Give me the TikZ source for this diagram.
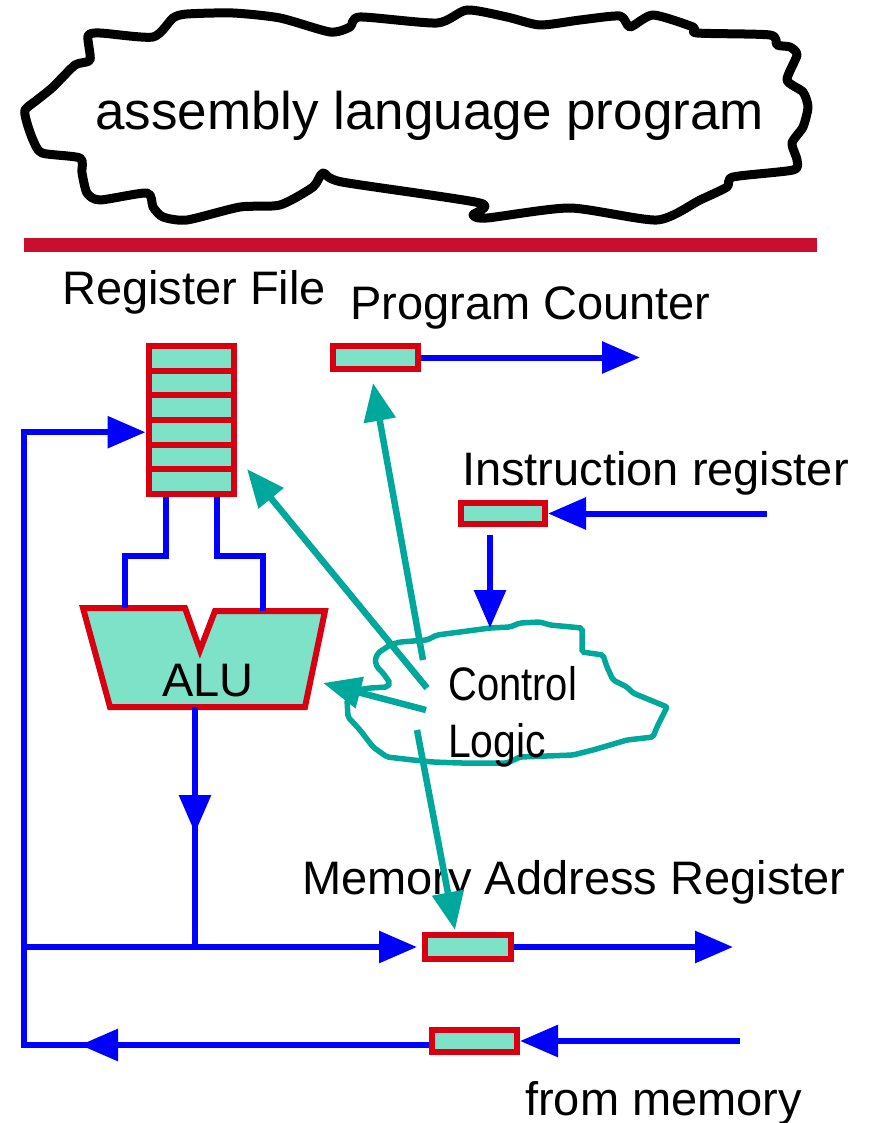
\documentclass[tikz,border=0pt]{standalone}
\usepackage{fontspec}
\setmainfont{Liberation Sans}
\usetikzlibrary{arrows.meta,positioning}
\definecolor{regred}{RGB}{216,0,16}
\definecolor{barred}{RGB}{200,16,46}
\definecolor{regfill}{RGB}{125,226,200}
\definecolor{ctlteal}{RGB}{0,168,156}
\tikzstyle{reg}=[draw=regred, line width=6pt, fill=regfill, inner sep=0pt]
\tikzstyle{bus}=[blue, line width=6pt]
\tikzstyle{ctl}=[ctlteal, line width=6.5pt]
\tikzstyle{lbl}=[inner sep=0pt, anchor=base west, font=\fontsize{47}{57}\selectfont]
\tikzstyle{arrowhd}=[-{Triangle[length=38pt,width=31pt]}]

\begin{document}
\begin{tikzpicture}[x=1pt, y=-1pt]
  \useasboundingbox (0,0) rectangle (870,1123);

  % program cloud and separator
  \draw[line width=9pt, line join=round] plot[smooth cycle, tension=0.4] coordinates {
    (88,36) (100,33) (153,37) (173,18) (187,14) (233,13) (280,18) (330,32)
    (350,27) (360,17) (437,23) (467,10) (507,17) (540,25) (580,20) (620,16)
    (630,27) (653,15) (693,27) (697,33) (770,35) (777,45) (790,47) (797,55)
    (787,80) (803,92) (808,107) (803,127) (792,143) (797,160) (793,170)
    (733,177) (727,187) (700,200) (657,220) (570,208) (487,218) (473,215)
    (480,203) (342,182) (323,173) (313,187) (280,205) (240,207) (187,220)
    (163,217) (153,207) (147,193) (100,200) (87,193) (82,173) (80,158)
    (42,153) (33,140) (27,123) (25,110) (37,100) (53,87) (75,65) (90,60)};
  \node[lbl, font=\fontsize{53}{60}\selectfont] (asm) at (95,130) {assembly language program};
  \fill[barred] (24,238) rectangle (817,252);

  % labels
  \node[lbl] (lblrf)  at (62,304)   {Register File};
  \node[lbl] (lblpc)  at (350,319)  {Program Counter};
  \node[lbl] (lblir)  at (462,485)  {Instruction register};
  \node[lbl] (lblmar) at (302,894)  {Memory Address Register};
  \node[lbl] (lblmem) at (525,1115) {from memory};

  % registers
  \foreach \i in {1,...,6}
    \node[reg, minimum width=85pt, minimum height=24.6pt] (rf\i) at (191,333.8+24.6*\i) {};
  \node[reg, minimum width=85pt, minimum height=23pt] (pc)  at (375.5,357.5) {};
  \node[reg, minimum width=84pt, minimum height=21pt] (ir)  at (503,513.5)  {};
  \node[reg, minimum width=86pt, minimum height=24pt] (mar) at (468,947)    {};
  \node[reg, minimum width=85pt, minimum height=22pt] (mdr) at (474.5,1041) {};

  % ALU
  \draw[reg] (83,608) -- (185,608) -- (200,650) -- (215,611) -- (325,611)
    -- (305,707) -- (110,707) -- cycle;
  \node[lbl] (alu) at (162,696) {ALU};
  \coordinate (ain1) at (125,608);
  \coordinate (ain2) at (263,611);
  \coordinate (aout) at (195,707);
  \coordinate (amid) at (195,833);

  % datapath
  \coordinate (lft)    at (24,947);
  \coordinate (junc)   at (195,947);
  \coordinate (lmid)   at (80,1045);
  \coordinate (pcout)  at (640,357.5);
  \coordinate (irin)   at (767,513.5);
  \coordinate (marout) at (733,947);
  \coordinate (memin)  at (740,1041);
  \draw[bus] ([xshift=-25pt]rf6.south) -- ++(0,59) -| (ain1);
  \draw[bus] ([xshift=26pt]rf6.south) -- ++(0,59) -| (ain2);
  \draw[bus] (aout) -- (junc);
  \draw[bus, arrowhd] (aout) -- (amid);
  \draw[bus, arrowhd, shorten >=5pt] (lft) -- (mar.west);
  \draw[bus, arrowhd] (mar.east) -- (marout);
  \draw[bus, arrowhd] (memin) -- (mdr.east);
  \draw[bus, arrowhd] (mdr.west |- lmid) -- (lmid -| lft) |- (rf4.west);
  \draw[bus, arrowhd] (mdr.west |- lmid) -- (lmid);
  \draw[bus, arrowhd] (pc.east) -- (pcout);
  \draw[bus, arrowhd] (irin) -- (ir.east);

  % control logic
  \draw[ctl, line width=5.5pt, rounded corners=2pt] (375,660) -- (378,653) -- (390,645)
    -- (400,642) -- (427,640) -- (437,635) -- (460,632) -- (490,628) -- (510,627)
    -- (520,623) -- (540,622) -- (550,625) -- (582,628) -- (582,652) -- (603,655)
    -- (607,667) -- (613,680) -- (627,687) -- (633,693) -- (667,707) -- (657,727)
    -- (653,737) -- (627,740) -- (593,750) -- (573,755) -- (520,757) -- (507,763)
    -- (460,763) -- (433,762) -- (413,760) -- (387,757) -- (373,747) -- (360,730)
    -- (348,717) -- (347,700) -- (357,690) -- (370,688) -- (387,687) -- (390,683)
    -- (383,673) -- (377,667) -- cycle;
  \node[lbl, xscale=0.85] (ctla) at (448,700) {Control};
  \node[lbl, xscale=0.87] (ctlb) at (448,757) {Logic};
  \coordinate (cltop) at (490,628);
  \draw[bus, arrowhd, shorten <=8pt] ([xshift=-13pt]ir.south) -- (cltop);

  \coordinate (c1) at (423,660);
  \coordinate (c2) at (427,688);
  \coordinate (c3) at (426,710);
  \coordinate (c4) at (417,730);
  \coordinate (pctip)  at (373,383);
  \coordinate (rftip)  at (247,469);
  \coordinate (alutip) at (323,683);
  \coordinate (martip) at (455,930);
  \draw[ctl, arrowhd] (c1) -- (pctip);
  \draw[ctl, arrowhd] (c2) -- (rftip);
  \draw[ctl, arrowhd] (c3) -- (alutip);
  \draw[ctl, arrowhd] (c4) -- (martip);
\end{tikzpicture}
\end{document}
